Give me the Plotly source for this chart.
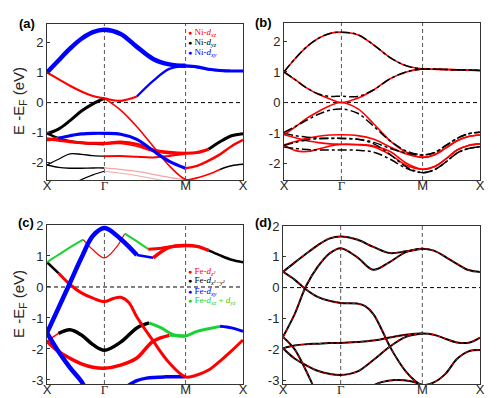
import numpy as np
import plotly.graph_objects as go

# path X-Γ-M-X ; t counts segments (0=X, 1=Γ, 2=M, 3=X)
k_nodes = [0, 0.5, 0.5 + 0.5 * np.sqrt(2), 1 + 0.5 * np.sqrt(2)]
k_labels = ['X', 'Γ', 'M', 'X']
T = [0, 0.2, 0.4, 0.6, 0.8, 1.0, 1.2, 1.4, 1.6, 1.8, 2.0, 2.2, 2.4, 2.6, 2.8, 3.0]
T_M = T[:11]

# ---- panel (a) : Ni fat bands ----
a_top = [1.0, 1.4, 1.79, 2.12, 2.34, 2.42, 2.28, 1.85, 1.45, 1.27, 1.22, 1.19, 1.11, 1.07, 1.05, 1.05]
a_2 = [1.0, 0.78, 0.56, 0.37, 0.22, 0.14, 0.06, 0.2, 0.72, 1.12, 1.2, 1.17, 1.1, 1.06, 1.05, 1.05]
a_3 = [-1.03, -0.88, -0.6, -0.28, -0.04, 0.14, -0.25, -0.8, -1.45, -2.1, -2.55, -2.5, -2.38, -2.22, -2.1, -2.05]
a_4 = [-1.24, -1.18, -1.1, -1.04, -1.02, -1.02, -1.05, -1.22, -1.6, -1.95, -2.18, -2.1, -1.93, -1.72, -1.45, -1.24]
a_5 = [-1.2, -1.25, -1.3, -1.33, -1.35, -1.35, -1.31, -1.38, -1.57, -1.65, -1.68, -1.66, -1.55, -1.3, -1.1, -1.03]
a_6 = [-1.02, -1.18, -1.28, -1.33, -1.36, -1.38, -1.36, -1.45, -1.62, -1.7, -1.7]
a_7 = [-2.07, -1.88, -1.7, -1.72, -1.76, -1.78, -1.77, -1.8, -1.82, -1.77, -1.7]
a_8 = [-2.07, -2.15, -2.18, -2.18, -2.17, -2.17, -2.22, -2.28, -2.38, -2.48, -2.56]
a_9_t = [0.55, 0.8, 1.0, 1.3, 1.55, 1.75]
a_9 = [-2.6, -2.4, -2.28, -2.38, -2.5, -2.6]

# ---- panel (b) : Ni, red = model, black = DFT ----
b_top = [1.0, 1.45, 1.83, 2.1, 2.26, 2.3, 2.22, 1.88, 1.47, 1.2, 1.1, 1.09, 1.08, 1.07, 1.06, 1.05]
b_r2 = [1.0, 0.74, 0.47, 0.27, 0.12, 0.0, 0.14, 0.42, 0.78, 1.0, 1.1, 1.09, 1.08, 1.07, 1.06, 1.05]
b_r3 = [-1.05, -0.79, -0.51, -0.29, -0.1, 0.0, -0.2, -0.7, -1.25, -1.62, -1.79, -1.71, -1.49, -1.25, -1.11, -1.06]
b_r4 = [-1.38, -1.27, -1.17, -1.1, -1.06, -1.05, -1.08, -1.2, -1.45, -1.68, -1.79, -1.71, -1.49, -1.25, -1.11, -1.06]
b_r5 = [-1.05, -1.15, -1.25, -1.31, -1.35, -1.36, -1.37, -1.42, -1.6, -1.98, -2.18, -2.1, -1.85, -1.55, -1.4, -1.35]
b_r6 = [-1.38, -1.57, -1.6, -1.52, -1.42, -1.37, -1.38, -1.45, -1.7, -2.05, -2.18, -2.1, -1.85, -1.55, -1.4, -1.35]
b_k2 = [1.0, 0.74, 0.47, 0.28, 0.2, 0.21, 0.2, 0.42, 0.78, 1.0, 1.1, 1.09, 1.08, 1.07, 1.06, 1.05]
b_k3 = [-0.97, -0.78, -0.57, -0.38, -0.25, -0.21, -0.35, -0.78, -1.25, -1.58, -1.71, -1.64, -1.41, -1.17, -1.02, -0.97]
b_k4 = [-1.0, -1.08, -1.13, -1.16, -1.17, -1.17, -1.2, -1.3, -1.5, -1.65, -1.71, -1.64, -1.41, -1.17, -1.02, -0.97]
b_k5 = [-1.4, -1.3, -1.22, -1.18, -1.17, -1.17, -1.2, -1.35, -1.7, -2.1, -2.29, -2.2, -1.95, -1.65, -1.5, -1.44]
b_k6 = [-1.45, -1.5, -1.53, -1.55, -1.55, -1.55, -1.56, -1.62, -1.85, -2.15, -2.29, -2.2, -1.95, -1.65, -1.5, -1.44]

# ---- panel (c) : Fe fat bands ----
c_up = [-1.48, -0.68, 0.13, 0.94, 1.65, 1.9, 1.55, 1.03, 0.94, 1.28, 1.34, 1.31, 1.18, 1.02, 0.88, 0.8]
c_dn_t = [0, 0.2, 0.4, 0.6, 0.66]
c_dn = [-1.48, -2.08, -2.6, -3.05, -3.25]
c_2_t = [0, 0.2, 0.4, 0.63, 0.8, 1.0, 1.14, 1.25, 1.4, 1.54, 1.7, 1.85, 2.0]
c_2 = [0.8, 1.04, 1.28, 1.53, 1.2, 0.94, 1.26, 1.72, 1.47, 1.22, 1.25, 1.31, 1.34]
c_3_t = [0, 0.2, 0.4, 0.6, 0.8, 1.0, 1.1, 1.2, 1.3, 1.4, 1.6, 1.8, 2.0, 2.2, 2.4, 2.6, 2.8, 3.0]
c_3 = [0.8, 0.45, 0.08, -0.19, -0.36, -0.47, -0.38, -0.33, -0.5, -0.97, -1.74, -2.45, -2.9, -2.84, -2.68, -2.39, -2.06, -1.71]
c_4_t = [0, 0.2, 0.4, 0.6, 0.8, 1.0, 1.2, 1.4, 1.55, 1.7, 1.85, 2.0, 2.2, 2.4, 2.6, 2.8, 3.0]
c_4 = [-1.75, -1.5, -1.38, -1.55, -1.86, -2.04, -1.78, -1.32, -1.16, -1.32, -1.54, -1.58, -1.43, -1.35, -1.27, -1.32, -1.43]
c_5 = [-1.75, -2.08, -2.3, -2.48, -2.59, -2.62, -2.52, -2.29, -1.75, -1.56, -1.58]
c_6_t = [1.28, 1.4, 1.52, 1.75, 2.0]
c_6 = [-3.2, -3.02, -2.94, -2.9, -2.9]

# ---- panel (d) : Fe, black = DFT, red dashed = model ----
d_1 = [0.51, 0.81, 1.1, 1.37, 1.59, 1.66, 1.56, 1.32, 1.12, 1.18, 1.26, 1.2, 1.0, 0.77, 0.57, 0.51]
d_2_t = [0, 0.2, 0.4, 0.6, 0.8, 1.0, 1.2, 1.3, 1.4, 1.5, 1.6, 1.7, 1.8, 1.9, 2.0, 2.2, 2.4, 2.6, 2.8, 3.0]
d_2 = [0.51, 0.26, -0.06, -0.3, -0.43, -0.5, -0.52, -0.6, -0.86, -1.35, -1.9, -2.35, -2.73, -3.0, -3.16,
       -3.08, -2.8, -2.32, -2.07, -2.03]
d_3 = [-1.6, -0.87, 0.05, 0.67, 1.1, 1.28, 0.99, 0.58, 0.83, 1.15, 1.26]
d_4_t = [0, 0.2, 0.4, 0.5, 0.55]
d_4 = [-1.6, -2.0, -2.7, -3.1, -3.3]
d_5 = [-1.97, -1.88, -1.84, -1.82, -1.8, -1.8, -1.77, -1.72, -1.62, -1.53, -1.49, -1.53, -1.66, -1.78, -1.79, -1.62]
d_6 = [-1.97, -2.3, -2.52, -2.7, -2.8, -2.84, -2.73, -2.35, -1.92, -1.6, -1.49]
d_7_t = [1.38, 1.5, 1.66, 1.86, 2.0]
d_7 = [-3.2, -3.07, -3.0, -3.04, -3.16]

RED, BLK, BLU, GRN, PALE = '#ff0000', '#000000', '#0000ff', '#19d232', '#f4a6a6'

# (t, E, [(t_from, t_to, colour, width), ...])
a_bands = [
    (T_M, a_8, [(0, 1, BLK, 1.4), (1, 2, PALE, 1.3)]),
    (a_9_t, a_9, [(0.55, 1, BLK, 1.2), (1, 1.75, PALE, 1.0)]),
    (T_M, a_7, [(0, 1, BLK, 1.3), (1, 2, RED, 2)]),
    (T_M, a_6, [(0, 1, BLK, 2.5), (1, 2, RED, 1.5)]),
    (T, a_5, [(0, 2.4, RED, 3), (2.4, 3, BLK, 3)]),
    (T, a_3, [(0, 1, BLK, 3), (1, 2.6, RED, 1.6), (2.6, 3, BLK, 1.5)]),
    (T, a_4, [(0, 0.2, RED, 3), (0.2, 2, BLU, 3.2), (2, 3, RED, 2.5)]),
    (T, a_2, [(0, 1.4, RED, 2.2), (1.4, 3, BLU, 2.2)]),
    (T, a_top, [(0, 2, BLU, 4.5), (2, 3, BLU, 3)]),
]
b_red = [(T, v) for v in (b_top, b_r2, b_r3, b_r4, b_r5, b_r6)]
b_blk = [(T, v) for v in (b_top, b_k2, b_k3, b_k4, b_k5, b_k6)]
c_bands = [
    (c_6_t, c_6, [(1.28, 2, BLU, 3.5)]),
    (T_M, c_5, [(0, 1.8, RED, 3.5), (1.8, 2, GRN, 3)]),
    (c_4_t, c_4, [(0, 0.2, RED, 1.5), (0.2, 1.55, BLK, 3.5), (1.55, 2.6, GRN, 3), (2.6, 3, BLU, 3)]),
    (c_3_t, c_3, [(0, 0.2, BLK, 2.5), (0.2, 3, RED, 3)]),
    (c_2_t, c_2, [(0, 0.63, GRN, 2), (0.63, 1.25, RED, 1.2), (1.25, 1.54, GRN, 2), (1.54, 2, RED, 3)]),
    (c_dn_t, c_dn, [(0, 0.66, BLU, 4.5)]),
    (T, c_up, [(0, 1.4, BLU, 4.5), (1.4, 1.6, BLU, 2.5), (1.6, 2.4, RED, 3.5), (2.4, 3, BLK, 2.5)]),
]
d_bands = [(T, d_1), (d_2_t, d_2), (T_M, d_3), (d_4_t, d_4), (T, d_5), (T_M, d_6), (d_7_t, d_7)]

fig = go.Figure()


def to_k(t):
    return np.interp(t, [0, 1, 2, 3], k_nodes)


def add_band(t, e, segs, ax, dash='solid'):
    t = np.asarray(t, dtype=float)
    e = np.asarray(e, dtype=float)
    for t0, t1, col, w in segs:
        m = (t >= t0 - 1e-9) & (t <= t1 + 1e-9)
        fig.add_trace(go.Scatter(x=to_k(t[m]), y=e[m], mode='lines',
                                 line=dict(color=col, width=w, shape='spline', smoothing=1.0, dash=dash),
                                 xaxis='x' + ax, yaxis='y' + ax, showlegend=False, hoverinfo='skip'))


for t, e, segs in a_bands:
    add_band(t, e, segs, '')
for t, e in b_red:
    add_band(t, e, [(0, 3, RED, 1.6)], '2')
for t, e in b_blk:
    add_band(t, e, [(0, 3, BLK, 1.5)], '2', dash='dashdot')
for t, e, segs in c_bands:
    add_band(t, e, segs, '3')
for t, e in d_bands:
    add_band(t, e, [(0, 3, BLK, 2)], '4')
for t, e in d_bands:
    add_band(t, e, [(0, 3, RED, 1)], '4', dash='dot')

W, H = 498, 398
panels = {
    '': ((39, 235), (16, 172), (-2.57, 2.61), [-2, -1, 0, 1, 2]),
    '2': ((276, 472), (15, 172), (-2.53, 2.6), [-2, -1, 0, 1, 2]),
    '3': ((39, 235), (217, 376), (-3.13, 2.0), [-3, -2, -1, 0, 1, 2]),
    '4': ((275, 472), (218, 376), (-3.13, 2.0), [-3, -2, -1, 0, 1, 2]),
}
tick_font = dict(family='Liberation Sans, Arial', size=13, color='#262626')
gamma_txt = ['X', '<span style="font-family:Liberation Serif">Γ</span>', 'M', 'X']
shapes = []
for ax, (xs, ys, yr, yt) in panels.items():
    fig.layout['xaxis' + ax] = dict(domain=[xs[0] / W, xs[1] / W], range=[0, k_nodes[-1]],
                                    anchor='y' + ax, tickvals=k_nodes, ticktext=gamma_txt,
                                    showline=True, mirror=True, linecolor='#333', linewidth=1,
                                    showgrid=False, zeroline=False, ticks='', ticklen=0,
                                    ticklabelstandoff=-7, tickfont=tick_font, automargin=False)
    fig.layout['yaxis' + ax] = dict(domain=[1 - ys[1] / H, 1 - ys[0] / H], range=list(yr),
                                    anchor='x' + ax, tickvals=yt, ticktext=[str(v) for v in yt],
                                    showline=True, mirror=True, linecolor='#333', linewidth=1,
                                    showgrid=False, zeroline=False, ticks='inside', ticklen=3,
                                    tickcolor='#333', tickfont=tick_font, automargin=False)
    for kv in k_nodes[1:3]:
        shapes.append(dict(type='line', xref='x' + ax, yref='y' + ax, x0=kv, x1=kv, y0=yr[0], y1=yr[1],
                           line=dict(color='#555', width=1, dash='4px,3px'), layer='below'))
    shapes.append(dict(type='line', xref='x' + ax, yref='y' + ax, x0=0, x1=k_nodes[-1], y0=0, y1=0,
                       line=dict(color='#000', width=1, dash='4px,3px'), layer='below'))

annotations = []
for lbl, x, y in [('(a)', 19, 16), ('(b)', 255, 14), ('(c)', 18, 214), ('(d)', 255, 214)]:
    annotations.append(dict(text='<b>' + lbl + '</b>', x=x / W, y=1 - y / H, xref='paper', yref='paper',
                            xanchor='center', yanchor='middle', showarrow=False,
                            font=dict(family='Liberation Sans, Arial', size=13, color='#000')))
for y in (93, 296):
    annotations.append(dict(text='E -E<sub>F</sub> (eV)', x=11 / W, y=1 - y / H, xref='paper', yref='paper',
                            xanchor='center', yanchor='middle', showarrow=False, textangle=-90,
                            font=dict(family='Liberation Sans, Arial', size=15, color='#262626')))

ni_leg = [('Ni-<i>d<sub>xz</sub></i>', RED, 24), ('Ni-<i>d<sub>yz</sub></i>', BLK, 34),
          ('Ni-<i>d<sub>xy</sub></i>', BLU, 44)]
fe_leg = [('Fe-<i>d<sub>z²</sub></i>', RED, 263), ('Fe-<i>d<sub>x²−y²</sub></i>', BLK, 272),
          ('Fe-<i>d<sub>xy</sub></i>', BLU, 283), ('Fe-<i>d<sub>xz</sub></i> + <i>d<sub>yz</sub></i>', GRN, 292)]
for txt, col, y in ni_leg + fe_leg:
    annotations.append(dict(text='<span style="font-size:7px">●</span> ' + txt, x=178 / W, y=1 - y / H,
                            xref='paper', yref='paper', xanchor='left', yanchor='middle', showarrow=False,
                            font=dict(family='Liberation Serif, Times New Roman', size=9, color=col)))

fig.update_layout(template='none', width=W, height=H, margin=dict(l=0, r=0, t=0, b=0),
                  paper_bgcolor='white', plot_bgcolor='white',
                  shapes=shapes, annotations=annotations)
fig.write_html('out.html')
